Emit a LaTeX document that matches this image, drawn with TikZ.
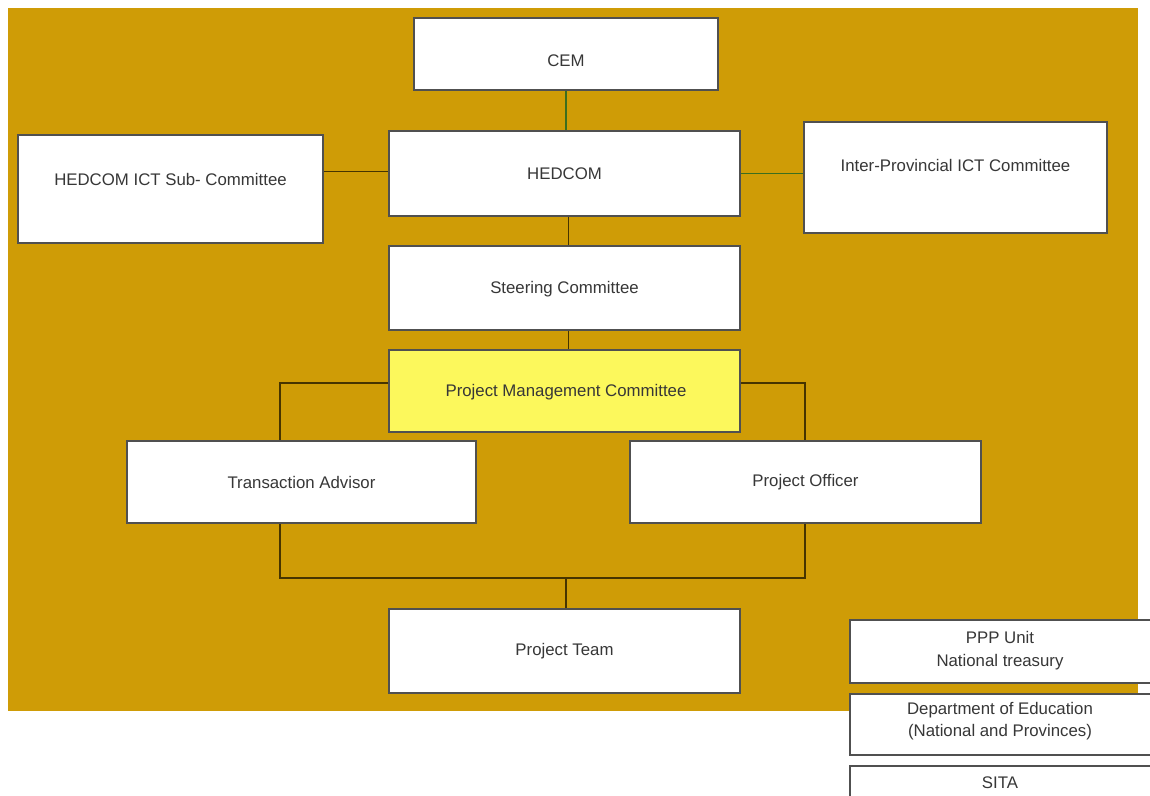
\documentclass[tikz,border=0pt]{standalone}
\usepackage{fontspec}
\setmainfont{Liberation Sans}
\usetikzlibrary{calc}
\pgfdeclarelayer{background}
\pgfdeclarelayer{lines}
\pgfsetlayers{background,lines,main}
\definecolor{gold}{RGB}{207,156,6}
\definecolor{pmcyellow}{RGB}{252,248,92}
\definecolor{boxline}{RGB}{80,80,80}
\definecolor{linkdark}{RGB}{70,52,0}
\definecolor{linkgreen}{RGB}{60,110,30}
\definecolor{txt}{RGB}{55,55,55}
\begin{document}
\begin{tikzpicture}[x=0.75pt,y=-0.75pt,
  box/.style={draw=boxline, fill=white, line width=1pt, inner sep=0pt, outer sep=0pt},
  lbl/.style={text=txt, font=\fontsize{12.6}{15}\selectfont, inner sep=0pt, align=center},
  link/.style={draw=linkdark, line width=1.4pt},
  glink/.style={draw=linkgreen, line width=1.4pt}]
\useasboundingbox (0,0) rectangle (1150,796);
\begin{pgfonlayer}{background}
  \fill[white] (0,0) rectangle (1150,796);
  \fill[gold] (8,8) rectangle (1138,711);
\end{pgfonlayer}

% boxes of the organisation chart
\node[box, minimum width=228pt, minimum height=54pt] (cem) at (566,54) {};
\node[box, minimum width=263.25pt, minimum height=63.75pt] (hed) at (564.5,173.5) {};
\node[box, minimum width=228.75pt, minimum height=81pt] (sub) at (170.5,189) {};
\node[box, minimum width=227.25pt, minimum height=83.25pt] (inter) at (955.5,177.5) {};
\node[box, minimum width=263.25pt, minimum height=63pt] (steer) at (564.5,288) {};
\node[box, fill=pmcyellow, minimum width=263.25pt, minimum height=61.5pt] (pmc) at (564.5,391) {};
\node[box, minimum width=261.75pt, minimum height=61.5pt] (ta) at (301.5,482) {};
\node[box, minimum width=263.25pt, minimum height=61.5pt] (po) at (805.5,482) {};
\node[box, minimum width=263.25pt, minimum height=63pt] (team) at (564.5,651) {};
\node[box, minimum width=228.75pt, minimum height=47.25pt] (ppp) at (1002.5,651.5) {};
\node[box, minimum width=228.75pt, minimum height=45.75pt] (dept) at (1002.5,724.5) {};
\node[box, minimum width=228.75pt, minimum height=45pt] (sita) at (1002.5,796) {};

% labels
\node[lbl] (tcem) at (566,61) {CEM};
\node[lbl] (thed) at (564.5,174) {HEDCOM};
\node[lbl] (tsub) at (170.5,179) {HEDCOM ICT Sub- Committee};
\node[lbl] (tinter) at (955.5,165) {Inter-Provincial ICT Committee};
\node[lbl] (tsteer) at (564.5,289) {Steering Committee};
\node[lbl] (tpmc) at (566,392) {Project Management Committee};
\node[lbl] (tta) at (301.5,482) {Transaction Advisor};
\node[lbl] (tpo) at (805.5,482) {Project Officer};
\node[lbl] (tteam) at (564.5,651) {Project Team};
\node[lbl] (tppp1) at (1000,637) {PPP Unit};
\node[lbl] (tppp2) at (1000,662) {National treasury};
\node[lbl] (tdept1) at (1000,710) {Department of Education};
\node[lbl] (tdept2) at (1000,732) {(National and Provinces)};
\node[lbl] (tsita) at (1000,783) {SITA};

% connectors
\coordinate (tl) at (280,383);
\coordinate (tr) at (805,383);
\coordinate (bl) at (280,578);
\coordinate (br) at (805,578);
\coordinate (bm) at (566,578);
\begin{pgfonlayer}{lines}
  \draw[glink] (cem.south) -- (cem.south |- hed.north);
  \draw[link] ([yshift=1.5pt]hed.west) -- ([yshift=1.5pt]hed.west -| sub.east);
  \draw[glink] (hed.east) -- (hed.east -| inter.west);
  \draw[link] ([xshift=3pt]hed.south) -- ([xshift=3pt]steer.north);
  \draw[link] ([xshift=3pt]steer.south) -- ([xshift=3pt]pmc.north);
  \draw[link] (pmc.west |- tl) -- (tl) -- (bl) -- (br) -- (tr) -- (pmc.east |- tr);
  \draw[link] (bm) -- (bm |- team.north);
\end{pgfonlayer}
\end{tikzpicture}
\end{document}
